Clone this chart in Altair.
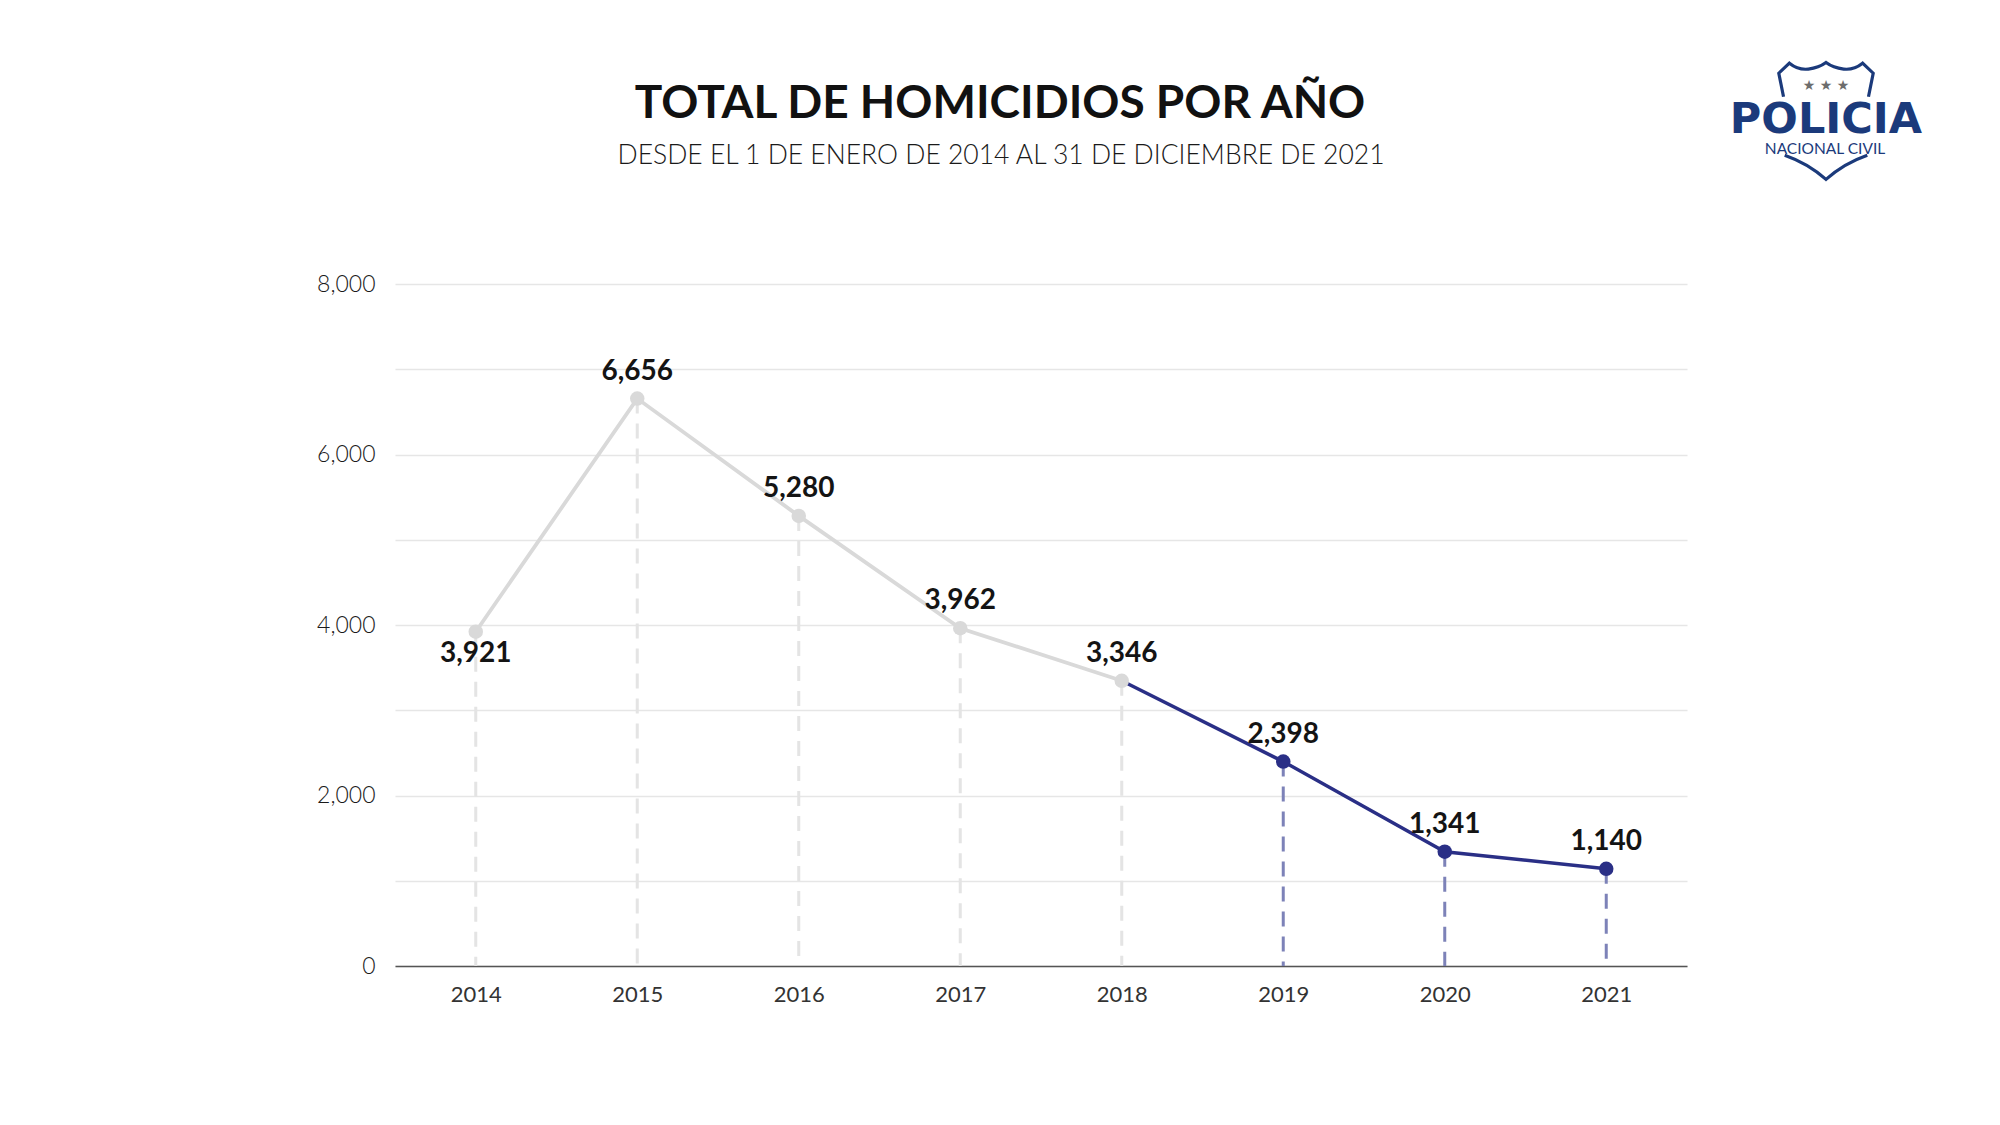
import altair as alt
import pandas as pd

years = [2014, 2015, 2016, 2017, 2018, 2019, 2020, 2021]
homicidios = [3921, 6656, 5280, 3962, 3346, 2398, 1341, 1140]
y_ticks = [0, 1000, 2000, 3000, 4000, 5000, 6000, 7000, 8000]

title_text = "TOTAL DE HOMICIDIOS POR AÑO"
subtitle_text = "DESDE EL 1 DE ENERO DE 2014 AL 31 DE DICIEMBRE DE 2021"
logo_main = "POLICIA"
logo_sub = "NACIONAL CIVIL"
logo_stars = "★ ★ ★"

NAVY = "#2a2f86"
NAVY_DASH = "#7d82b8"
GREY = "#d9d9d9"
GREY_DASH = "#e4e4e4"
LOGO = "#1b3a7b"
FONT = "Lato"

df = pd.DataFrame({"year": years, "value": homicidios})
one = pd.DataFrame({"k": [0]})

W, H = 1292, 682

x_enc = alt.X(
    "year:O",
    scale=alt.Scale(type="point", padding=0.5),
    axis=alt.Axis(
        title=None, labelAngle=0, labelFontSize=22, labelColor="#333333",
        labelFont=FONT, labelPadding=18, ticks=False, grid=False,
        domainColor="#555555", domainWidth=1.5,
    ),
)
y_enc = alt.Y(
    "value:Q",
    scale=alt.Scale(domain=[0, 8000], nice=False),
    axis=alt.Axis(
        title=None, values=y_ticks,
        labelExpr="datum.value % 2000 == 0 ? format(datum.value, ',') : ''",
        labelFontSize=23, labelColor="#1a1a1a", labelFont=FONT,
        labelFontWeight=300,
        labelPadding=20, ticks=False, domain=False,
        gridColor="#e6e6e6", gridWidth=1.5,
    ),
)

base = alt.Chart(df)

rules = base.mark_rule(strokeDash=[15, 10], strokeWidth=3).encode(
    x=x_enc, y=y_enc, y2=alt.datum(0),
    color=alt.condition("datum.year >= 2019", alt.value(NAVY_DASH), alt.value(GREY_DASH)),
)

line_old = base.transform_filter("datum.year <= 2018").mark_line(
    color=GREY, strokeWidth=3.8).encode(x=x_enc, y=y_enc)
line_new = base.transform_filter("datum.year >= 2018").mark_line(
    color=NAVY, strokeWidth=3.5).encode(x=x_enc, y=y_enc)

points = base.mark_point(filled=True, size=210, opacity=1).encode(
    x=x_enc, y=y_enc,
    color=alt.condition("datum.year >= 2019", alt.value(NAVY), alt.value(GREY)),
)

labels_above = base.transform_filter("datum.year != 2014").mark_text(
    font=FONT, fontSize=28, fontWeight="bold", color="#141414",
    baseline="middle", dy=-27,
).encode(x=x_enc, y=y_enc, text=alt.Text("value:Q", format=","))

labels_below = base.transform_filter("datum.year == 2014").mark_text(
    font=FONT, fontSize=28, fontWeight="bold", color="#141414",
    baseline="middle", dy=22,
).encode(x=x_enc, y=y_enc, text=alt.Text("value:Q", format=","))

title = alt.Chart(one).mark_text(
    font=FONT, fontSize=46, fontWeight="bold", color="#111111",
    align="center", baseline="alphabetic",
).encode(x=alt.value(605), y=alt.value(-166), text=alt.value(title_text))

subtitle = alt.Chart(one).mark_text(
    font=FONT, fontSize=26.5, fontWeight=300, color="#1a1a1a",
    align="center", baseline="alphabetic",
).encode(x=alt.value(606), y=alt.value(-120), text=alt.value(subtitle_text))

shield_path = (
    "M-0.72,-0.41 L-0.80,-0.81 L-0.62,-0.98 "
    "Q-0.47,-0.86 -0.30,-0.88 Q-0.12,-0.90 0,-0.99 "
    "Q0.12,-0.90 0.30,-0.88 Q0.47,-0.86 0.62,-0.98 "
    "L0.80,-0.81 L0.72,-0.41 "
    "M-0.70,0.58 Q-0.30,0.72 0,0.99 Q0.30,0.72 0.70,0.58"
)
shield = alt.Chart(one).mark_point(
    shape=shield_path, size=118 * 118, filled=False, stroke=LOGO,
    strokeWidth=3.2, opacity=1,
).encode(x=alt.value(1431), y=alt.value(-163))

logo_word = alt.Chart(one).mark_text(
    font="DejaVu Sans", fontSize=43, fontWeight="bold", color=LOGO,
    align="center", baseline="alphabetic",
).encode(x=alt.value(1431), y=alt.value(-151), text=alt.value(logo_main))

logo_small = alt.Chart(one).mark_text(
    font=FONT, fontSize=15.5, color=LOGO, align="center", baseline="middle",
).encode(x=alt.value(1430), y=alt.value(-135), text=alt.value(logo_sub))

stars = alt.Chart(one).mark_text(
    font="DejaVu Sans", fontSize=14, color="#6d6d6d", align="center",
    baseline="middle",
).encode(x=alt.value(1431), y=alt.value(-198), text=alt.value(logo_stars))

chart = alt.layer(
    rules, line_old, line_new, points, labels_above, labels_below,
    title, subtitle, shield, logo_word, logo_small, stars,
).properties(
    width=W, height=H,
    autosize=alt.AutoSizeParams(type="none"),
    padding={"left": 387, "top": 276, "right": 300, "bottom": 140},
    background="white",
).configure_view(stroke=None)

chart.save("out.html", embed_options={"renderer": "svg", "actions": False})
